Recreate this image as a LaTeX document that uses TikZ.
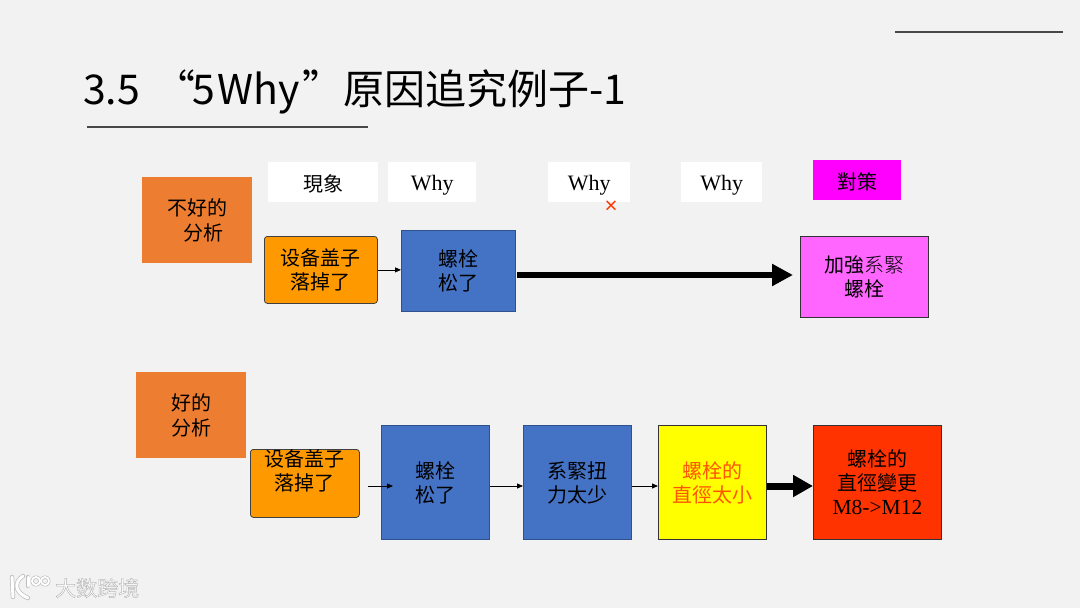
\documentclass[tikz,border=0pt]{standalone}
\usepackage{fontspec}
\setmainfont{Noto Sans CJK SC}
\newfontfamily\serifw{Liberation Serif}
\newfontfamily\lightcjk{Noto Sans CJK SC}[UprightFont=* Light]
\newfontfamily\titlefont{Noto Sans CJK SC}
\newfontfamily\heavyf{Noto Sans CJK SC}[UprightFont=* Bold]
\usetikzlibrary{arrows.meta}
\definecolor{bgc}{HTML}{F2F2F2}
\definecolor{oc}{HTML}{ED7D31}
\definecolor{ac}{HTML}{FF9900}
\definecolor{bc}{HTML}{4472C4}
\definecolor{bd}{HTML}{2F528F}
\definecolor{mg}{HTML}{FF00FF}
\definecolor{mgl}{HTML}{FF66FF}
\definecolor{rc}{HTML}{FF3300}
\definecolor{yc}{HTML}{FFFF00}
\definecolor{ytext}{HTML}{FF5500}
\definecolor{tc}{HTML}{000000}
\definecolor{rulec}{HTML}{484848}
\definecolor{wmg}{HTML}{BEBEBE}
\tikzset{
  x=1pt,y=-1pt,
  txt/.style={font=\fontsize{20}{24}\selectfont,text=tc,align=center,inner sep=0pt,execute at begin node={\rule{0pt}{20.5pt}}},
  sq/.style={txt,anchor=north west},
  headbox/.style={sq,fill=white,minimum height=40pt},
  whybox/.style={headbox,font=\serifw\fontsize{22}{24}\selectfont},
  tagbox/.style={sq,fill=oc,minimum width=110pt,minimum height=86pt},
  bluebox/.style={sq,fill=bc,draw=bd,line width=1pt},
  tallbox/.style={minimum width=108pt,minimum height=114pt},
  causebox/.style={sq,fill=ac,draw=black!75,line width=0.8pt,rounded corners=3pt},
  plainbox/.style={sq,draw=black!80,line width=0.8pt},
  thin arrow/.style={draw=black,line width=0.8pt,-{Triangle[length=6pt,width=5pt]}},
  rulel/.style={draw=rulec,line width=2.5pt},
  wmark/.style={line cap=round,line join=round},
}
\newcommand{\logopaths}[3]{%
  \draw[wmark,draw=#1,line width=#2pt] (12,577) -- (13,597);
  \draw[wmark,draw=#1,line width=#2pt] (23,576) .. controls (14,582) and (14,592) .. (28,598);
  \draw[wmark,draw=#1,line width=#2pt] (28,577) -- (28,586);
  \draw[wmark,draw=#1,line width=#3pt] (36,581) circle[radius=4];
  \draw[wmark,draw=#1,line width=#3pt] (45,581) circle[radius=4];
}
\begin{document}
\begin{tikzpicture}
\useasboundingbox (0,0) rectangle (1080,608);
\fill[bgc] (0,0) rectangle (1080,608);
% rules
\coordinate (r1a) at (895,32); \coordinate (r1b) at (1063,32);
\coordinate (r2a) at (87,127); \coordinate (r2b) at (368,127);
\draw[rulel] (r1a) -- (r1b);
\draw[rulel] (r2a) -- (r2b);
% title
\node[anchor=base west,inner sep=0pt,text=tc,font=\titlefont\fontsize{41}{48}\selectfont] (title) at (83,104) {3.5\hspace{14pt}“\hspace{-3pt}5\hspace{3pt}Why\hspace{2pt}”原因追究例子-1};
% header labels
\node[headbox,minimum width=110pt] (h1) at (268,162) {現象};
\node[whybox,minimum width=88pt] (h2) at (388,162) {Why};
\node[whybox,minimum width=82pt] (h3) at (548,162) {Why};
\node[whybox,minimum width=81pt] (h4) at (681,162) {Why};
\node[headbox,fill=mg,minimum width=88pt] (h5) at (813,160) {對策};
\node[inner sep=0pt,text=rc,font=\heavyf\fontsize{15}{15}\selectfont] (x) at (611,206) {×};
% top row
\node[tagbox] (t1) at (142,177) {不好的\\[1pt]\hspace{13pt}分析};
\node[causebox,minimum width=113pt,minimum height=67pt] (a1) at (264,236) {设备盖子\\落掉了};
\node[bluebox,minimum width=114pt,minimum height=81pt] (a2) at (401,230) {螺栓\\松了};
\node[plainbox,fill=mgl,minimum width=128pt,minimum height=81pt] (a3) at (800,236) {加強{\lightcjk 系緊}\\螺栓};
\draw[thin arrow] (a1.east) -- (a1.east -| a2.west);
\coordinate (a2out) at (517,275);
\coordinate (a3in) at (793,275);
\draw[line width=6pt,-{Triangle[length=21pt,width=21pt]}] (a2out) -- (a3in);
% bottom row
\node[tagbox] (t2) at (136,372) {好的\\[1pt]分析};
\node[causebox,minimum width=109pt,minimum height=68pt] (b1) at (250,449) {};
\node[txt] (b1t) at (304.5,471) {设备盖子\\落掉了};
\node[bluebox,tallbox] (b2) at (381,425) {螺栓\\松了};
\node[bluebox,tallbox] (b3) at (523,425) {系緊扭\\力太少};
\node[plainbox,tallbox,fill=yc,text=ytext] (b4) at (658,425) {螺栓的\\直徑太小};
\node[plainbox,fill=rc,minimum width=128pt,minimum height=114pt] (b5) at (813,425) {螺栓的\\直徑變更\\{\serifw\fontsize{21.5}{24}\selectfont M8->M12}};
\coordinate (lvl) at (368,486);
\coordinate (b2in) at (393,486);
\draw[thin arrow] (lvl) -- (b2in);
\draw[thin arrow] (b2.east |- lvl) -- (b3.west |- lvl);
\draw[thin arrow] (b3.east |- lvl) -- (b4.west |- lvl);
\draw[line width=7pt,-{Triangle[length=20pt,width=21pt]}] (b4.east |- lvl) -- (b5.west |- lvl);
% watermark
\logopaths{wmg}{4.4}{3.2}
\logopaths{white}{3}{1.8}
\node[anchor=west,inner sep=0pt,text=white,font=\fontsize{21}{24}\selectfont] (wm) at (55,588) {\special{pdf:code q 2 Tr 0.5 w 0.72 G}大数跨境\special{pdf:code Q}};
\end{tikzpicture}
\end{document}
